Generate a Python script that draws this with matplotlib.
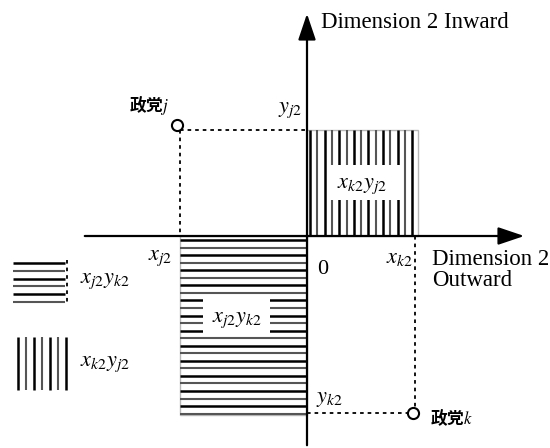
import numpy as np
import matplotlib.pyplot as plt
from matplotlib.patches import Rectangle

# positions of the two parties on dimension 2 (origin = axis crossing)
x_j2, y_j2 = -127, 106
x_k2, y_k2 = 108, -177

axis_labels = ['Dimension 2 Inward', 'Dimension 2\nOutward']
party_labels = ['政党$j$', '政党$k$']
area_labels = ['$x_{j2}y_{k2}$', '$x_{k2}y_{j2}$']

plt.rcParams['mathtext.fontset'] = 'stix'
serif = ['Liberation Serif', 'DejaVu Serif']
cjk = ['Noto Sans CJK JP', 'DejaVu Sans']

fig = plt.figure(figsize=(5.5, 4.48), dpi=100)
ax = fig.add_axes([0, 0, 1, 1])
ax.set_xlim(-307, 243)
ax.set_ylim(-212, 236)
ax.axis('off')


def hatch_style(i):
    if i % 2 == 0:
        return dict(color='black', lw=1.8, solid_capstyle='butt')
    return dict(color='#555555', lw=1.5, solid_capstyle='butt')


# axes with arrows
head = '-|>,head_length=0.8,head_width=0.27'
ax.annotate('', xy=(220, 0), xytext=(-225, 0),
            arrowprops=dict(arrowstyle=head, color='black', lw=1.6, mutation_scale=20))
ax.annotate('', xy=(0, 225), xytext=(0, -212),
            arrowprops=dict(arrowstyle=head, color='black', lw=1.6, mutation_scale=20))

# top-right area: vertical hatching
w_tr = x_k2 + 3
ax.add_patch(Rectangle((0, 0), w_tr, y_j2, fill=False, ec='#b8b8b8', lw=1, zorder=1))
for i, xv in enumerate(np.arange(3, w_tr, 7.3)):
    ax.plot([xv, xv], [0, y_j2], zorder=2, **hatch_style(i))

# bottom-left area: horizontal hatching
h_bl = y_k2 - 2
ax.add_patch(Rectangle((x_j2, h_bl), -x_j2, -h_bl, fill=False, ec='#b8b8b8', lw=1, zorder=1))
for i, yv in enumerate(np.arange(-4, h_bl, -7.55)):
    ax.plot([x_j2, 0], [yv, yv], zorder=2, **hatch_style(i))

# dotted guides
dot = dict(color='black', lw=1.3, ls=(0, (2, 2.2)), zorder=3)
ax.plot([x_j2, 0], [y_j2, y_j2], **dot)
ax.plot([x_j2, x_j2], [y_j2, 0], **dot)
ax.plot([x_k2, x_k2], [0, y_k2], **dot)
ax.plot([0, x_k2], [y_k2, y_k2], **dot)

# party points
ax.plot([x_j2 - 3, x_k2 - 2], [y_j2 + 5, y_k2], 'o', ms=8, mfc='white', mec='black', mew=1.5, zorder=5)
ax.text(x_j2 - 11, y_j2 + 25, party_labels[0], family=cjk, fontsize=12, fontweight='bold',
        ha='right', va='center')
ax.text(x_k2 + 15, y_k2 - 5, party_labels[1], family=cjk, fontsize=12, fontweight='bold',
        ha='left', va='center')

# axis labels
ax.text(14, 214, axis_labels[0], family=serif, fontsize=16.5, ha='left', va='center')
ax.text(125, -34, axis_labels[1], family=serif, fontsize=16.5, ha='left', va='center',
        linespacing=1.0)
ax.text(10, -34, '0', family=serif, fontsize=16, ha='left', va='center')

# value labels next to the axes
ax.text(x_j2 - 8, -22, '$x_{j2}$', fontsize=16, ha='right', va='center')
ax.text(x_k2 - 2, -22, '$x_{k2}$', fontsize=16, ha='right', va='center')
ax.text(-5, y_j2 + 20, '$y_{j2}$', fontsize=16, ha='right', va='center')
ax.text(9, y_k2 + 14, '$y_{k2}$', fontsize=16, ha='left', va='center')

# area labels inside hatching, on white boxes
ax.add_patch(Rectangle((20, 36), 73, 35, fc='white', ec='none', zorder=3))
ax.text(55, 50, area_labels[1], fontsize=16, ha='center', va='center', zorder=4)
ax.add_patch(Rectangle((-104, -100), 67, 38, fc='white', ec='none', zorder=3))
ax.text(-70, -84, area_labels[0], fontsize=16, ha='center', va='center', zorder=4)

# legend samples on the left
for i, yv in enumerate(np.linspace(-27, -66, 6)):
    ax.plot([-294, -242], [yv, yv], **hatch_style(i))
ax.plot([-240, -240], [-24, -68], **dot)
ax.text(-227, -45, area_labels[0], fontsize=16, ha='left', va='center')
for i, xv in enumerate(np.linspace(-289, -241, 7)):
    ax.plot([xv, xv], [-101, -154], **hatch_style(i))
ax.text(-227, -128, area_labels[1], fontsize=16, ha='left', va='center')

fig.savefig('out.png', dpi=100)
